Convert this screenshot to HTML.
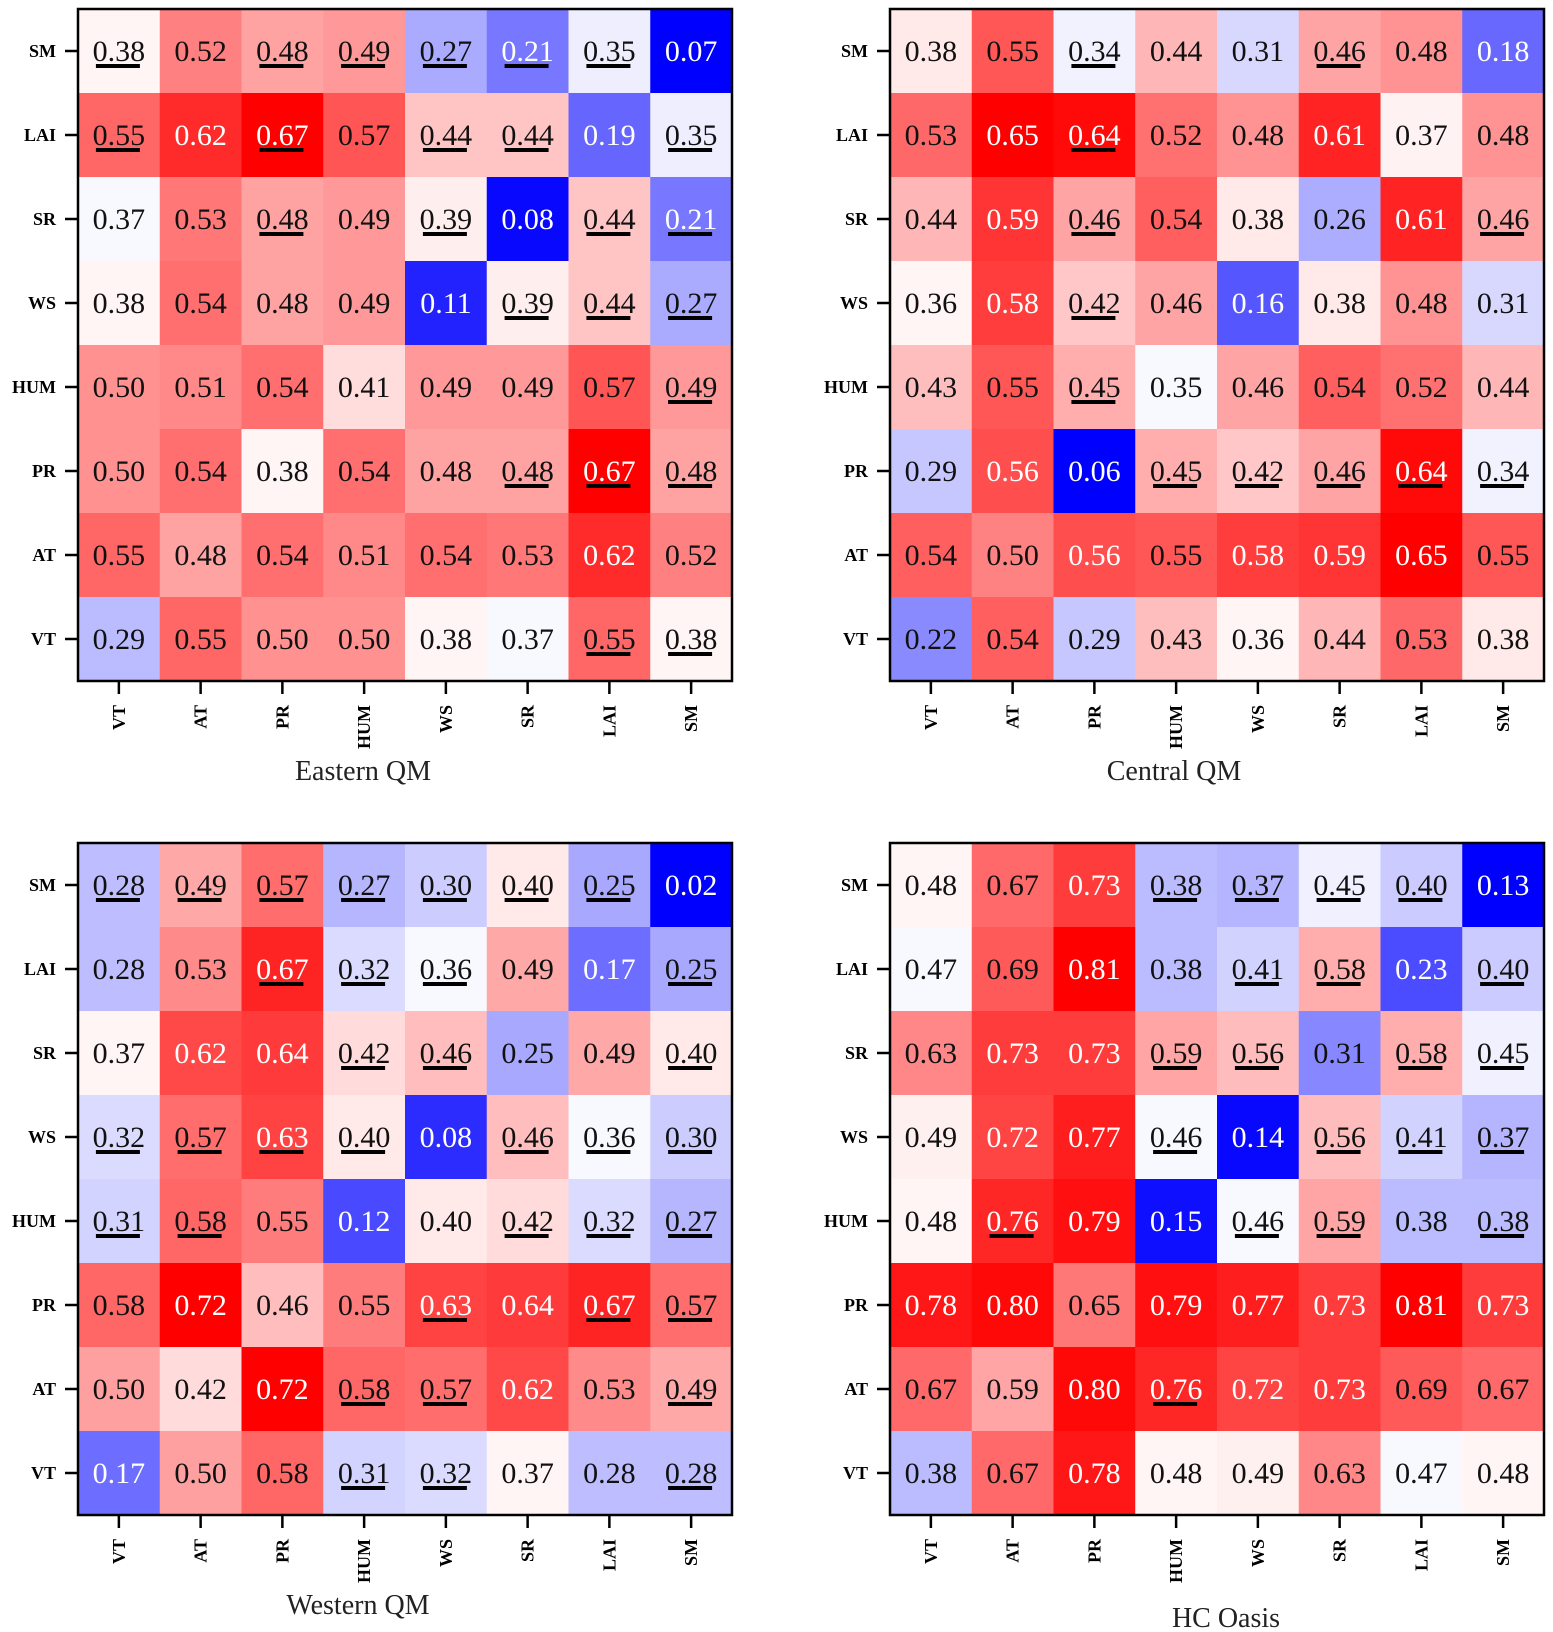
<!DOCTYPE html>
<html><head><meta charset="utf-8"><style>
html,body{margin:0;padding:0;background:#fff;}
svg{display:block;}
svg text{font-family:"Liberation Serif","DejaVu Serif",serif;}
</style></head><body>
<svg id="s" width="1553" height="1632" xmlns="http://www.w3.org/2000/svg"></svg>
<script>
var panels=[
{x:78,y:9,title:"Eastern QM",tx:363,ty:780,vmin:0.07,vmax:0.67,d:[
"0.38u 0.52 0.48u 0.49u 0.27u 0.21u 0.35u 0.07",
"0.55u 0.62 0.67u 0.57 0.44u 0.44u 0.19 0.35u",
"0.37 0.53 0.48u 0.49 0.39u 0.08 0.44u 0.21u",
"0.38 0.54 0.48 0.49 0.11 0.39u 0.44u 0.27u",
"0.50 0.51 0.54 0.41 0.49 0.49 0.57 0.49u",
"0.50 0.54 0.38 0.54 0.48 0.48u 0.67u 0.48u",
"0.55 0.48 0.54 0.51 0.54 0.53 0.62 0.52",
"0.29 0.55 0.50 0.50 0.38 0.37 0.55u 0.38u"]},
{x:890,y:9,title:"Central QM",tx:1174,ty:780,vmin:0.06,vmax:0.65,d:[
"0.38 0.55 0.34u 0.44 0.31 0.46u 0.48 0.18",
"0.53 0.65 0.64u 0.52 0.48 0.61 0.37 0.48",
"0.44 0.59 0.46u 0.54 0.38 0.26 0.61 0.46u",
"0.36 0.58 0.42u 0.46 0.16 0.38 0.48 0.31",
"0.43 0.55 0.45u 0.35 0.46 0.54 0.52 0.44",
"0.29 0.56 0.06 0.45u 0.42u 0.46u 0.64u 0.34u",
"0.54 0.50 0.56 0.55 0.58 0.59 0.65 0.55",
"0.22 0.54 0.29 0.43 0.36 0.44 0.53 0.38"]},
{x:78,y:843,title:"Western QM",tx:358,ty:1614,vmin:0.02,vmax:0.72,d:[
"0.28u 0.49u 0.57u 0.27u 0.30u 0.40u 0.25u 0.02",
"0.28 0.53 0.67u 0.32u 0.36u 0.49 0.17 0.25u",
"0.37 0.62 0.64 0.42u 0.46u 0.25 0.49 0.40u",
"0.32u 0.57u 0.63u 0.40u 0.08 0.46u 0.36u 0.30u",
"0.31u 0.58u 0.55 0.12 0.40 0.42u 0.32u 0.27u",
"0.58 0.72 0.46 0.55 0.63u 0.64 0.67u 0.57u",
"0.50 0.42 0.72 0.58u 0.57u 0.62 0.53 0.49u",
"0.17 0.50 0.58 0.31u 0.32u 0.37 0.28 0.28u"]},
{x:890,y:843,title:"HC Oasis",tx:1226,ty:1627,vmin:0.13,vmax:0.81,d:[
"0.48 0.67 0.73 0.38u 0.37u 0.45u 0.40u 0.13",
"0.47 0.69 0.81 0.38 0.41u 0.58u 0.23 0.40u",
"0.63 0.73 0.73 0.59u 0.56u 0.31 0.58u 0.45u",
"0.49 0.72 0.77 0.46u 0.14 0.56u 0.41u 0.37u",
"0.48 0.76u 0.79 0.15 0.46u 0.59u 0.38 0.38u",
"0.78 0.80 0.65 0.79 0.77 0.73 0.81 0.73",
"0.67 0.59 0.80 0.76u 0.72 0.73 0.69 0.67",
"0.38 0.67 0.78 0.48 0.49 0.63 0.47 0.48"]}];
var rows=["SM","LAI","SR","WS","HUM","PR","AT","VT"];
var cols=["VT","AT","PR","HUM","WS","SR","LAI","SM"];
var CW=81.75,CH=84,W=654,H=672;
function col(t){var r,g,b;if(t<0.5){r=g=Math.min(248,Math.round(510*t));b=255;}else{r=255;g=b=Math.min(245,Math.round(510*(1-t)));}return "rgb("+r+","+g+","+b+")";}
var h="";
panels.forEach(function(p){
 p.d.forEach(function(line,ri){
  line.split(" ").forEach(function(v,ci){
   var u=v.indexOf("u")>=0;var val=parseFloat(v);var s=v.replace("u","");
   var t=(val-p.vmin)/(p.vmax-p.vmin);t=Math.max(0,Math.min(1,t));
   var x=p.x+ci*CW,y=p.y+ri*CH;
   h+='<rect x="'+x.toFixed(2)+'" y="'+y+'" width="'+(CW+0.6)+'" height="'+(CH+0.6)+'" fill="'+col(t)+'"/>';
   var cx=x+CW/2,cy=y+CH/2;
   var tc=(t>0.84||t<0.25)?"#fff":"#111";
   h+='<text x="'+cx.toFixed(1)+'" y="'+(cy+10)+'" font-size="30" text-anchor="middle" fill="'+tc+'">'+s+'</text>';
   if(u)h+='<rect x="'+(cx-23).toFixed(1)+'" y="'+(cy+13)+'" width="44" height="4" fill="#000"/>';
  });
 });
 h+='<rect x="'+p.x+'" y="'+p.y+'" width="'+W+'" height="'+H+'" fill="none" stroke="#000" stroke-width="2.5"/>';
 rows.forEach(function(r,i){var cy=p.y+i*CH+CH/2;
  h+='<line x1="'+(p.x-13)+'" y1="'+cy+'" x2="'+p.x+'" y2="'+cy+'" stroke="#000" stroke-width="2.5"/>';
  h+='<text x="'+(p.x-22)+'" y="'+(cy+6)+'" font-size="18" font-weight="bold" text-anchor="end">'+r+'</text>';});
 cols.forEach(function(c,i){var cx=p.x+i*CW+CW/2,by=p.y+H;
  h+='<line x1="'+cx+'" y1="'+by+'" x2="'+cx+'" y2="'+(by+13)+'" stroke="#000" stroke-width="2.5"/>';
  h+='<text transform="translate('+(cx+6)+','+(by+24)+') rotate(-90)" font-size="18" font-weight="bold" text-anchor="end">'+c+'</text>';});
 h+='<text x="'+p.tx+'" y="'+p.ty+'" font-size="28" text-anchor="middle" fill="#222">'+p.title+'</text>';
});
document.getElementById("s").innerHTML=h;
</script>
</body></html>
